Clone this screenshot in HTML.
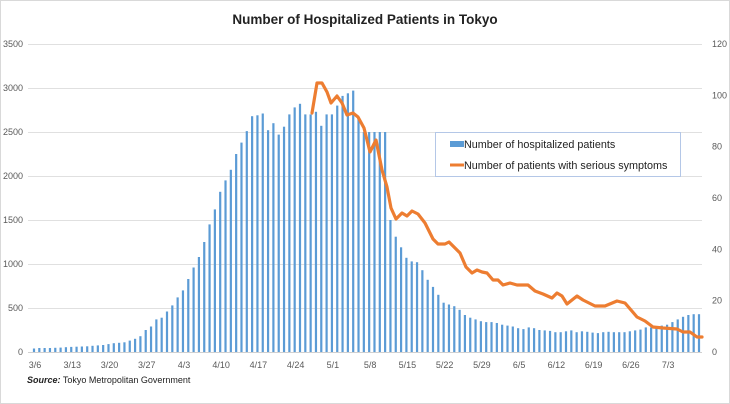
<!DOCTYPE html>
<html><head><meta charset="utf-8"><style>
body{margin:0;background:#fff}
svg{display:block;font-family:"Liberation Sans",sans-serif}
</style></head><body>
<svg id="c" width="730" height="404" viewBox="0 0 730 404" xmlns="http://www.w3.org/2000/svg">
<rect x="0.5" y="0.5" width="729" height="403" fill="#fff" stroke="#d9d9d9"/>
<text x="365" y="24" text-anchor="middle" font-size="13.5" font-weight="bold" fill="#222">Number of Hospitalized Patients in Tokyo</text>
<g id="grid" stroke="#e0e0e0" stroke-width="1"></g>
<g id="bars" fill="#5b9bd5"></g>
<polyline fill="none" stroke="#ed7d31" stroke-width="3.2" stroke-linejoin="round" stroke-linecap="round" points="312,113 317,83 322,83 327,92 331,103 337,96 342,103 347,115 353,113 358,117 364,128 370,152 376,140 382,170 387,187 391,208 396,219 402,213 407,216 412,211 418,214 425,223 433,239 438,244 445,244 449,242 455,248 460,253 466,267 472,273 477,270 482,272 487,273 493,280 498,280 503,285 510,283 517,285 528,285 535,291 543,294 552,298 557,293 562,296 567,304 577,296 583,300 595,306 605,306 617,301 625,303 637,317 645,321 653,327 663,328 677,329 683,332 690,332 697,337 702,337"/>
<g id="lab" font-size="9" fill="#595959"></g>
<rect x="435.5" y="132.5" width="245" height="44" fill="#fff" stroke="#b4c7e7"/>
<rect x="450" y="141" width="14" height="6" fill="#5b9bd5"/>
<text x="464" y="148" font-size="10.8" fill="#222">Number of hospitalized patients</text>
<line x1="450" y1="165" x2="464" y2="165" stroke="#ed7d31" stroke-width="3"/>
<text x="464" y="169" font-size="10.8" fill="#222">Number of patients with serious symptoms</text>
<text x="27" y="383" font-size="9" fill="#222"><tspan font-weight="bold" font-style="italic">Source:</tspan> Tokyo Metropolitan Government</text>
</svg>
<script>
var v=[40,45,45,45,48,50,55,58,60,62,65,70,75,80,90,100,105,110,130,150,180,250,290,370,390,460,530,620,700,830,960,1080,1250,1450,1620,1820,1950,2070,2250,2380,2510,2680,2690,2710,2520,2600,2470,2560,2700,2780,2820,2700,2700,2730,2570,2700,
2700,2800,2910,2940,2970,2670,2500,2500,2500,2500,2500,
1500,1310,1190,1070,1030,1020,930,820,740,650,560,540,520,480,420,390,370,350,340,340,330,310,300,290,270,260,280,270,250,245,240,225,225,235,245,225,235,230,220,215,225,230,225,225,225,235,245,255,280,280,290,300,310,340,370,400,420,430,430];
var ns="http://www.w3.org/2000/svg";
function el(p,t,a,tx){var e=document.createElementNS(ns,t);for(var k in a)e.setAttribute(k,a[k]);if(tx)e.textContent=tx;document.getElementById(p).appendChild(e);}
for(var i=1;i<=7;i++){var y=352-i*44;el("grid","line",{x1:28,x2:702,y1:y+.5,y2:y+.5});}
el("grid","line",{x1:28,x2:702,y1:352.5,y2:352.5,stroke:"#d0d0d0"});
for(var i=0;i<v.length;i++){var x=34+i*5.32,h=v[i]*0.088;el("bars","rect",{x:(x-1.1).toFixed(2),y:(352-h).toFixed(1),width:2.2,height:h.toFixed(1)});}
for(var i=0;i<=7;i++)el("lab","text",{x:23,y:355-i*44,"text-anchor":"end"},String(i*500));
for(var i=0;i<=6;i++)el("lab","text",{x:712,y:355-i*51.33,"text-anchor":"start"},String(i*20));
var d=["3/6","3/13","3/20","3/27","4/3","4/10","4/17","4/24","5/1","5/8","5/15","5/22","5/29","6/5","6/12","6/19","6/26","7/3"];
for(var i=0;i<d.length;i++)el("lab","text",{x:35+i*7*5.32,y:368,"text-anchor":"middle"},d[i]);
</script>
</body></html>
